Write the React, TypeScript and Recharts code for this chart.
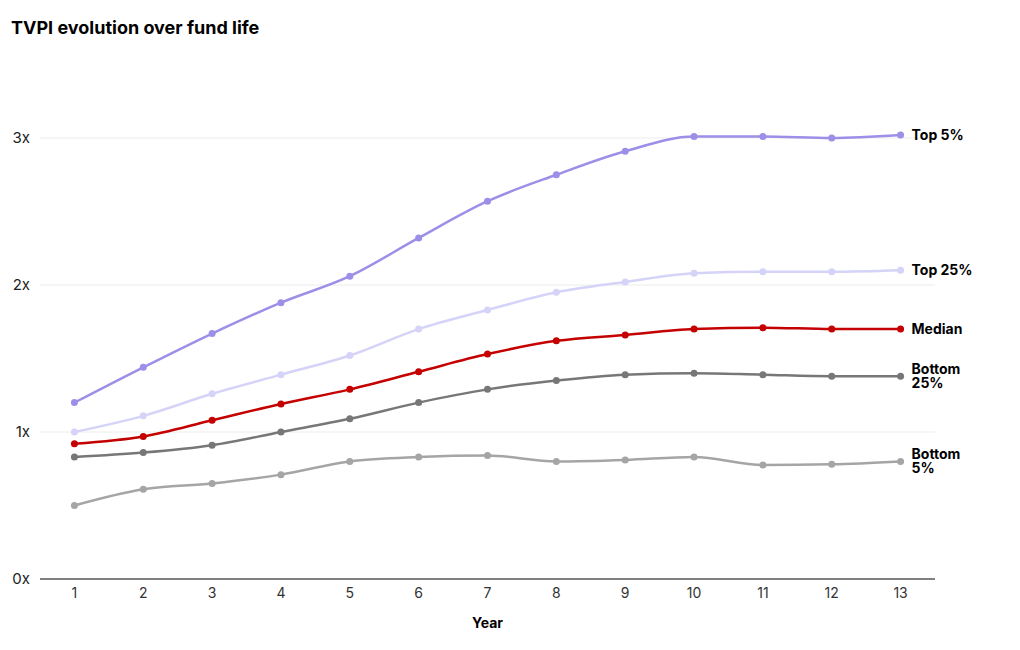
import React from 'react';
import { LineChart, Line, XAxis, YAxis, CartesianGrid, LabelList } from 'recharts';

const years = [1, 2, 3, 4, 5, 6, 7, 8, 9, 10, 11, 12, 13];
const top5 = [1.2, 1.44, 1.67, 1.88, 2.06, 2.32, 2.57, 2.75, 2.91, 3.01, 3.01, 3.0, 3.02];
const top25 = [1.0, 1.11, 1.26, 1.39, 1.52, 1.7, 1.83, 1.95, 2.02, 2.08, 2.09, 2.09, 2.1];
const median = [0.92, 0.97, 1.08, 1.19, 1.29, 1.41, 1.53, 1.62, 1.66, 1.7, 1.71, 1.7, 1.7];
const bottom25 = [0.83, 0.86, 0.91, 1.0, 1.09, 1.2, 1.29, 1.35, 1.39, 1.4, 1.39, 1.38, 1.38];
const bottom5 = [0.5, 0.61, 0.65, 0.71, 0.8, 0.83, 0.84, 0.8, 0.81, 0.83, 0.775, 0.78, 0.8];
const yTicks = [0, 1, 2, 3];
const gridValues = [1, 2, 3];

const data = years.map((year, i) => ({
  year,
  top5: top5[i],
  top25: top25[i],
  median: median[i],
  bottom25: bottom25[i],
  bottom5: bottom5[i],
}));

const series = [
  { key: 'top5', color: '#9b8fe8', label: ['Top 5%'] },
  { key: 'top25', color: '#d5d3f8', label: ['Top 25%'] },
  { key: 'median', color: '#c40000', label: ['Median'] },
  { key: 'bottom25', color: '#777777', label: ['Bottom', '25%'] },
  { key: 'bottom5', color: '#a5a5a5', label: ['Bottom', '5%'] },
];

const font = 'Inter, "Noto Sans", sans-serif';
const lineGap = 14;

// series name drawn to the right of the last point, one <text> per line
function endLabel(lines: string[]) {
  return (props: any) => {
    const { x, y, index } = props;
    if (index !== years.length - 1) return null;
    const start = y - ((lines.length - 1) * lineGap) / 2;
    return (
      <g>
        {lines.map((l, i) => (
          <text
            key={i}
            x={x + 11}
            y={start + i * lineGap}
            dy={5}
            fontFamily={font}
            fontSize={14}
            fontWeight={700}
            fill="#000"
          >
            {l}
          </text>
        ))}
      </g>
    );
  };
}

export default function App() {
  return (
    <div style={{ position: 'absolute', left: 0, top: 0, width: 1020, height: 650, background: '#fff' }}>
      <div
        style={{
          position: 'absolute',
          left: 11,
          top: 17,
          fontFamily: font,
          fontWeight: 700,
          fontSize: 18,
          color: '#000',
        }}
      >
        TVPI evolution over fund life
      </div>
      <LineChart
        width={1020}
        height={650}
        data={data}
        margin={{ top: 64.5, right: 85, bottom: 41, left: 0 }}
      >
        <CartesianGrid vertical={false} stroke="#ececec" horizontalValues={gridValues} />
        <XAxis
          dataKey="year"
          type="number"
          domain={[0.5, 13.5]}
          ticks={years}
          height={30}
          tickSize={0}
          tickMargin={9}
          axisLine={{ stroke: '#000' }}
          tickLine={false}
          tick={{ fontFamily: font, fontSize: 14, fill: '#333' }}
          label={{
            value: 'Year',
            position: 'insideBottom',
            offset: -19,
            style: { fontFamily: font, fontSize: 14, fontWeight: 700, fill: '#000' },
          }}
        />
        <YAxis
          domain={[0, 3.5]}
          ticks={yTicks}
          width={40}
          tickSize={0}
          tickMargin={10}
          axisLine={false}
          tickLine={false}
          tickFormatter={(v) => `${v}x`}
          tick={{ fontFamily: font, fontSize: 15, fill: '#222' }}
        />
        {series.map((s) => (
          <Line
            key={s.key}
            type="monotone"
            dataKey={s.key}
            stroke={s.color}
            strokeWidth={2.5}
            dot={{ r: 3.5, fill: s.color, stroke: s.color, strokeWidth: 0 }}
            activeDot={false}
            isAnimationActive={false}
          >
            <LabelList dataKey={s.key} content={endLabel(s.label)} />
          </Line>
        ))}
      </LineChart>
    </div>
  );
}
